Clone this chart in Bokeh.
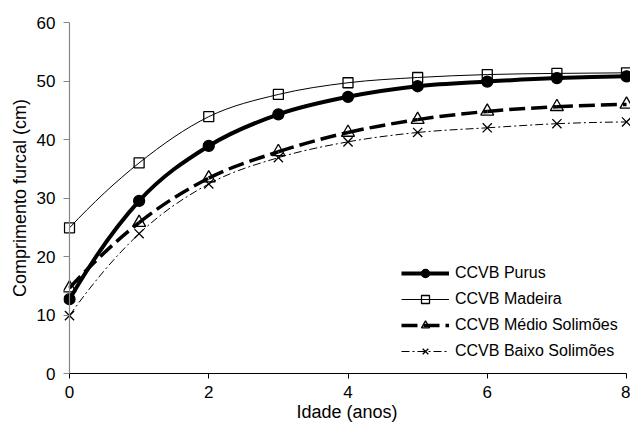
from bokeh.plotting import figure
from bokeh.models import Range1d, Legend, LegendItem, FixedTicker, Span
from bokeh.embed import file_html
from bokeh.resources import INLINE

# ---- data ----
ages = [0, 1, 2, 3, 4, 5, 6, 7, 8]
purus = [12.7, 29.5, 38.9, 44.3, 47.3, 49.1, 49.9, 50.5, 50.8]
madeira = [24.9, 36.0, 43.9, 47.7, 49.7, 50.6, 51.1, 51.3, 51.4]
medio = [14.6, 25.8, 33.4, 37.9, 41.2, 43.4, 44.8, 45.6, 46.0]
baixo = [9.9, 23.9, 32.4, 36.9, 39.6, 41.2, 42.0, 42.7, 43.0]
series_names = ["CCVB Purus", "CCVB Madeira", "CCVB Médio Solimões", "CCVB Baixo Solimões"]
x_ticks = [0, 2, 4, 6, 8]
y_ticks = [0, 10, 20, 30, 40, 50, 60]
x_title = "Idade (anos)"
y_title = "Comprimento furcal (cm)"

FONT = "Liberation Sans"
X0, X1 = -0.086, 8.057


def smooth_segments(xs, ys):
    """Bezier control points for a smoothed curve through the data points."""
    n = len(xs)

    def tangent(v, i):
        if i == 0:
            return (-3 * v[0] + 4 * v[1] - v[2]) / 2.0
        if i == n - 1:
            return (3 * v[n - 1] - 4 * v[n - 2] + v[n - 3]) / 2.0
        return (v[i + 1] - v[i - 1]) / 2.0

    seg = dict(x0=[], y0=[], x1=[], y1=[], cx0=[], cy0=[], cx1=[], cy1=[])
    for i in range(n - 1):
        seg["x0"].append(xs[i]); seg["y0"].append(ys[i])
        seg["x1"].append(xs[i + 1]); seg["y1"].append(ys[i + 1])
        seg["cx0"].append(xs[i] + tangent(xs, i) / 3.0)
        seg["cy0"].append(ys[i] + tangent(ys, i) / 3.0)
        seg["cx1"].append(xs[i + 1] - tangent(xs, i + 1) / 3.0)
        seg["cy1"].append(ys[i + 1] - tangent(ys, i + 1) / 3.0)
    return seg


p = figure(
    width=630, height=427,
    x_range=Range1d(X0, X1), y_range=Range1d(0, 60),
    output_backend="svg", toolbar_location=None,
    min_border_left=63, min_border_top=22, min_border_right=0, min_border_bottom=54,
)
p.outline_line_color = None
p.xgrid.visible = False
p.ygrid.visible = False
p.background_fill_color = "white"
p.border_fill_color = "white"

# x axis
xa = p.xaxis[0]
xa.ticker = FixedTicker(ticks=x_ticks)
xa.bounds = (0, 8)
xa.axis_line_color = "black"
xa.major_tick_line_color = "black"
xa.major_tick_out = 5
xa.major_tick_in = 0
xa.minor_tick_line_color = None
xa.major_label_text_font = FONT
xa.major_label_text_font_size = "17px"
xa.major_label_text_color = "black"
xa.major_label_standoff = 7
xa.axis_label = x_title
xa.axis_label_text_font = FONT
xa.axis_label_text_font_size = "18px"
xa.axis_label_text_font_style = "normal"
xa.axis_label_text_color = "black"
xa.axis_label_standoff = 1

# y axis: labels at the frame edge, ticks drawn inward so they end at x = 0
AXIS_GRAY = "#868686"
ya = p.yaxis[0]
ya.ticker = FixedTicker(ticks=y_ticks)
ya.axis_line_color = None
ya.major_tick_line_color = AXIS_GRAY
ya.major_tick_out = 0
ya.major_tick_in = 6
ya.minor_tick_line_color = None
ya.major_label_text_font = FONT
ya.major_label_text_font_size = "17px"
ya.major_label_text_color = "black"
ya.major_label_standoff = 8
ya.axis_label = y_title
ya.axis_label_text_font = FONT
ya.axis_label_text_font_size = "18px"
ya.axis_label_text_font_style = "normal"
ya.axis_label_text_color = "black"
ya.axis_label_standoff = 4

p.add_layout(Span(location=0, dimension="height", line_color=AXIS_GRAY, line_width=1.2))

styles = [
    dict(values=purus, lw=4, dash="solid", marker="circle", size=11, fill="black"),
    dict(values=madeira, lw=1, dash="solid", marker="square", size=10, fill=None),
    dict(values=medio, lw=3.5, dash="16 6", marker="triangle", size=13, fill=None),
    dict(values=baixo, lw=1, dash="8 3 2 3", marker="x", size=13, fill=None),
]

items = []
for name, st in zip(series_names, styles):
    seg = smooth_segments(ages, st["values"])
    r_line = p.bezier(
        x0=seg["x0"], y0=seg["y0"], x1=seg["x1"], y1=seg["y1"],
        cx0=seg["cx0"], cy0=seg["cy0"], cx1=seg["cx1"], cy1=seg["cy1"],
        line_color="black", line_width=st["lw"], line_dash=st["dash"],
    )
    r_pts = p.scatter(
        x=ages, y=st["values"], marker=st["marker"], size=st["size"],
        line_color="black", line_width=1.3,
        fill_color=st["fill"] if st["fill"] else None,
    )
    items.append(LegendItem(label=name, renderers=[r_line, r_pts]))

legend = Legend(
    items=items, location=(338, 12),
    glyph_width=48, glyph_height=20, label_height=20, spacing=6,
    label_standoff=6, padding=0, margin=0,
    border_line_color=None, background_fill_alpha=0,
    label_text_font=FONT, label_text_font_size="16px", label_text_color="black",
)
p.add_layout(legend)

open("out.html", "w").write(file_html(p, INLINE))
